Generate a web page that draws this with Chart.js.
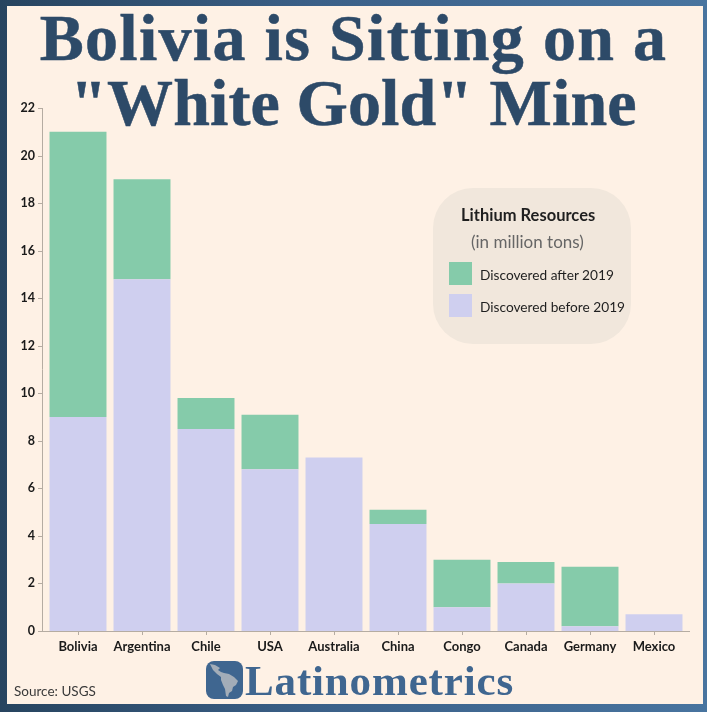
<!DOCTYPE html>
<html>
<head>
<meta charset="utf-8">
<script src="https://cdn.jsdelivr.net/npm/chart.js@4"></script>
<style>
  html, body { margin: 0; padding: 0; }
  body { width: 707px; height: 712px; overflow: hidden; position: relative;
         background: linear-gradient(90deg, #27445f 0%, #3b6088 45%, #48749f 100%); }
  #panel { position: absolute; left: 7px; top: 6px; width: 696px; height: 698px; background: #fef1e5; }
  canvas { position: absolute; left: 0; top: 0; }
  .title { position: absolute; left: 0; width: 707px; text-align: center; color: #2d4a68;
           font: bold 66px "Liberation Serif", serif; white-space: nowrap; line-height: 70px;
           -webkit-text-stroke: 0.5px #2d4a68; }
  #legend { position: absolute; left: 433px; top: 188px; width: 198px; height: 156px;
            background: #f1e7dc; border-radius: 40px; font-family: Lato, sans-serif; color: #1f1f1f; }
  #legend div { position: absolute; white-space: nowrap; }
  .swatch { width: 23px; height: 23px; left: 16px; }
  #logo { position: absolute; left: 206px; top: 661px; }
  #brand { position: absolute; left: 245px; top: 656px; color: #3f6690; letter-spacing: 0.85px;
           font: bold 43px "Liberation Serif", serif; white-space: nowrap; line-height: 50px; }
  #source { position: absolute; left: 14px; top: 683px; font: 13.5px Lato, sans-serif; color: #3a3a3a; }
</style>
</head>
<body>
<div id="panel"></div>
<canvas id="myChart" width="707" height="712"></canvas>
<div class="title" style="top:3px;letter-spacing:1.3px">Bolivia is Sitting on a</div>
<div class="title" style="top:68px;letter-spacing:0.1px">"White Gold" Mine</div>
<div id="legend">
  <div style="left:28px;top:17px;font-weight:bold;font-size:16.5px">Lithium Resources</div>
  <div style="left:38px;top:43px;font-size:17px;color:#666">(in million tons)</div>
  <div class="swatch" style="top:74px;background:#85cbaa"></div>
  <div style="left:47px;top:78px;font-size:13.7px">Discovered after 2019</div>
  <div class="swatch" style="top:106px;background:#cfcfef"></div>
  <div style="left:47px;top:110px;font-size:13.7px">Discovered before 2019</div>
</div>
<svg id="logo" width="37" height="38" viewBox="0 0 37 38">
  <rect width="37" height="38" rx="8" fill="#3f6690"/>
  <path d="M4 3 L9 4 L14 7 L12 9 L15 11 L18 12 L23 13 L28 16 L32 20 L30 24 L27 26 L26 30 L23 32 L22 36 L20 35 L19 28 L17 24 L15 19 L15 16 L11 13 L7 9 Z" fill="#a3adb8"/>
</svg>
<div id="brand">Latinometrics</div>
<div id="source">Source: USGS</div>
<script>
const categories = ['Bolivia', 'Argentina', 'Chile', 'USA', 'Australia', 'China', 'Congo', 'Canada', 'Germany', 'Mexico'];
const discoveredBefore = [9, 14.8, 8.5, 6.8, 7.3, 4.5, 1, 2, 0.2, 0.7];
const discoveredAfter = [12, 4.2, 1.3, 2.3, 0, 0.6, 2, 0.9, 2.5, 0];
const yTicks = [0, 2, 4, 6, 8, 10, 12, 14, 16, 18, 20, 22];

// axis lines stick out past the bars, so draw them by hand from the scales
const axisLines = {
  id: 'axisLines',
  afterDraw(chart) {
    const { ctx, scales: { x, y } } = chart;
    const base = y.getPixelForValue(0);
    ctx.save();
    ctx.strokeStyle = '#b5aca2';
    ctx.lineWidth = 1;
    ctx.beginPath();
    ctx.moveTo(42.5, y.getPixelForValue(22));
    ctx.lineTo(42.5, base);
    ctx.moveTo(38, base + 0.5);
    ctx.lineTo(690, base + 0.5);
    yTicks.forEach(t => {
      const p = Math.round(y.getPixelForValue(t)) + 0.5;
      ctx.moveTo(38, p);
      ctx.lineTo(42, p);
    });
    categories.forEach((c, i) => {
      const p = Math.round(x.getPixelForTick(i)) + 0.5;
      ctx.moveTo(p, base);
      ctx.lineTo(p, base + 4);
    });
    ctx.stroke();
    ctx.restore();
  }
};

const ctx = document.getElementById('myChart').getContext('2d');
const myChart = new Chart(ctx, {
  type: 'bar',
  data: {
    labels: categories,
    datasets: [
      { label: 'Discovered before 2019', data: discoveredBefore, backgroundColor: '#cfcfef' },
      { label: 'Discovered after 2019', data: discoveredAfter, backgroundColor: '#85cbaa' },
    ],
  },
  options: {
    responsive: false,
    animation: false,
    barPercentage: 0.89,
    categoryPercentage: 1,
    layout: { padding: { left: 0, right: 21, top: 108, bottom: 0 } },
    plugins: { legend: { display: false }, tooltip: { enabled: false } },
    scales: {
      x: {
        stacked: true,
        afterFit(s) { s.height = 81; },
        grid: { display: false },
        border: { display: false },
        ticks: { color: '#1a1a1a', font: { family: 'Lato', size: 13, weight: 'bold' }, padding: 0, maxRotation: 0, autoSkip: false },
      },
      y: {
        stacked: true,
        min: 0,
        max: 22,
        afterFit(s) { s.width = 46; },
        afterBuildTicks(s) { s.ticks = yTicks.map(v => ({ value: v })); },
        grid: { display: false },
        border: { display: false },
        ticks: { color: '#1a1a1a', font: { family: 'Lato', size: 12.5, weight: 'bold' }, padding: 3 },
      },
    },
  },
  plugins: [axisLines],
});
</script>
</body>
</html>
